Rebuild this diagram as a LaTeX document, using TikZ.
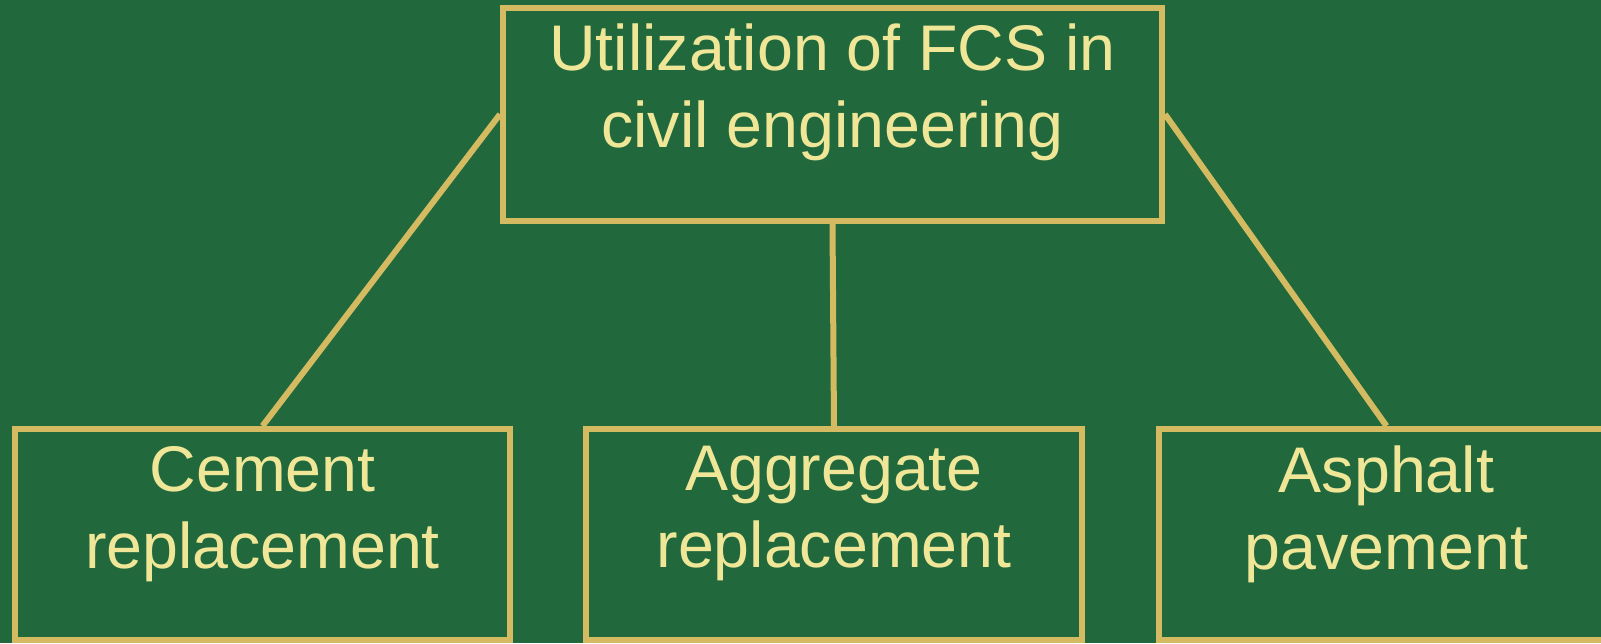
\documentclass[tikz,border=0pt]{standalone}
\usepackage{fontspec}
\setmainfont{Liberation Sans}
\usetikzlibrary{positioning}

\definecolor{boardgreen}{RGB}{33,105,60}
\definecolor{goldline}{RGB}{212,186,96}
\definecolor{paletext}{RGB}{240,230,152}

\tikzset{
  block/.style={draw=goldline, line width=6pt, inner sep=0pt},
  blocktext/.style={text=paletext, anchor=north, inner sep=0pt, align=center,
    font=\fontsize{64.5}{77}\selectfont, execute at begin node=\rule{0pt}{48pt}},
  link/.style={draw=goldline, line width=6pt},
}

\begin{document}
\begin{tikzpicture}[x=1pt, y=-1pt]
        \fill[boardgreen] (0,0) rectangle (1601,643);
        \useasboundingbox (0,0) rectangle (1601,643);

        % top box
        \node[block, minimum width=659pt, minimum height=212.5pt,
          label={[blocktext, yshift=-19pt]north:{Utilization of FCS in\\civil engineering}}] (fcs) at (832.5,114.25) {};

        % three uses
        \node[block, minimum width=495pt, minimum height=211pt,
          label={[blocktext, yshift=-20pt]north:{Cement\\replacement}}] (cement) at (262.5,534.5) {};
        \node[block, minimum width=496pt, minimum height=211pt,
          label={[blocktext, yshift=-20pt]north:{Aggregate\\replacement}}] (aggregate) at (834,534.5) {};
        \node[block, minimum width=455pt, minimum height=211pt,
          label={[blocktext, yshift=-20pt]north:{Asphalt\\pavement}}] (asphalt) at (1386.5,534.5) {};

        \draw[link] (fcs.west) -- (cement.north);
        \draw[link] (fcs.south) -- (aggregate.north);
        \draw[link] (fcs.east) -- (asphalt.north);
\end{tikzpicture}
\end{document}
